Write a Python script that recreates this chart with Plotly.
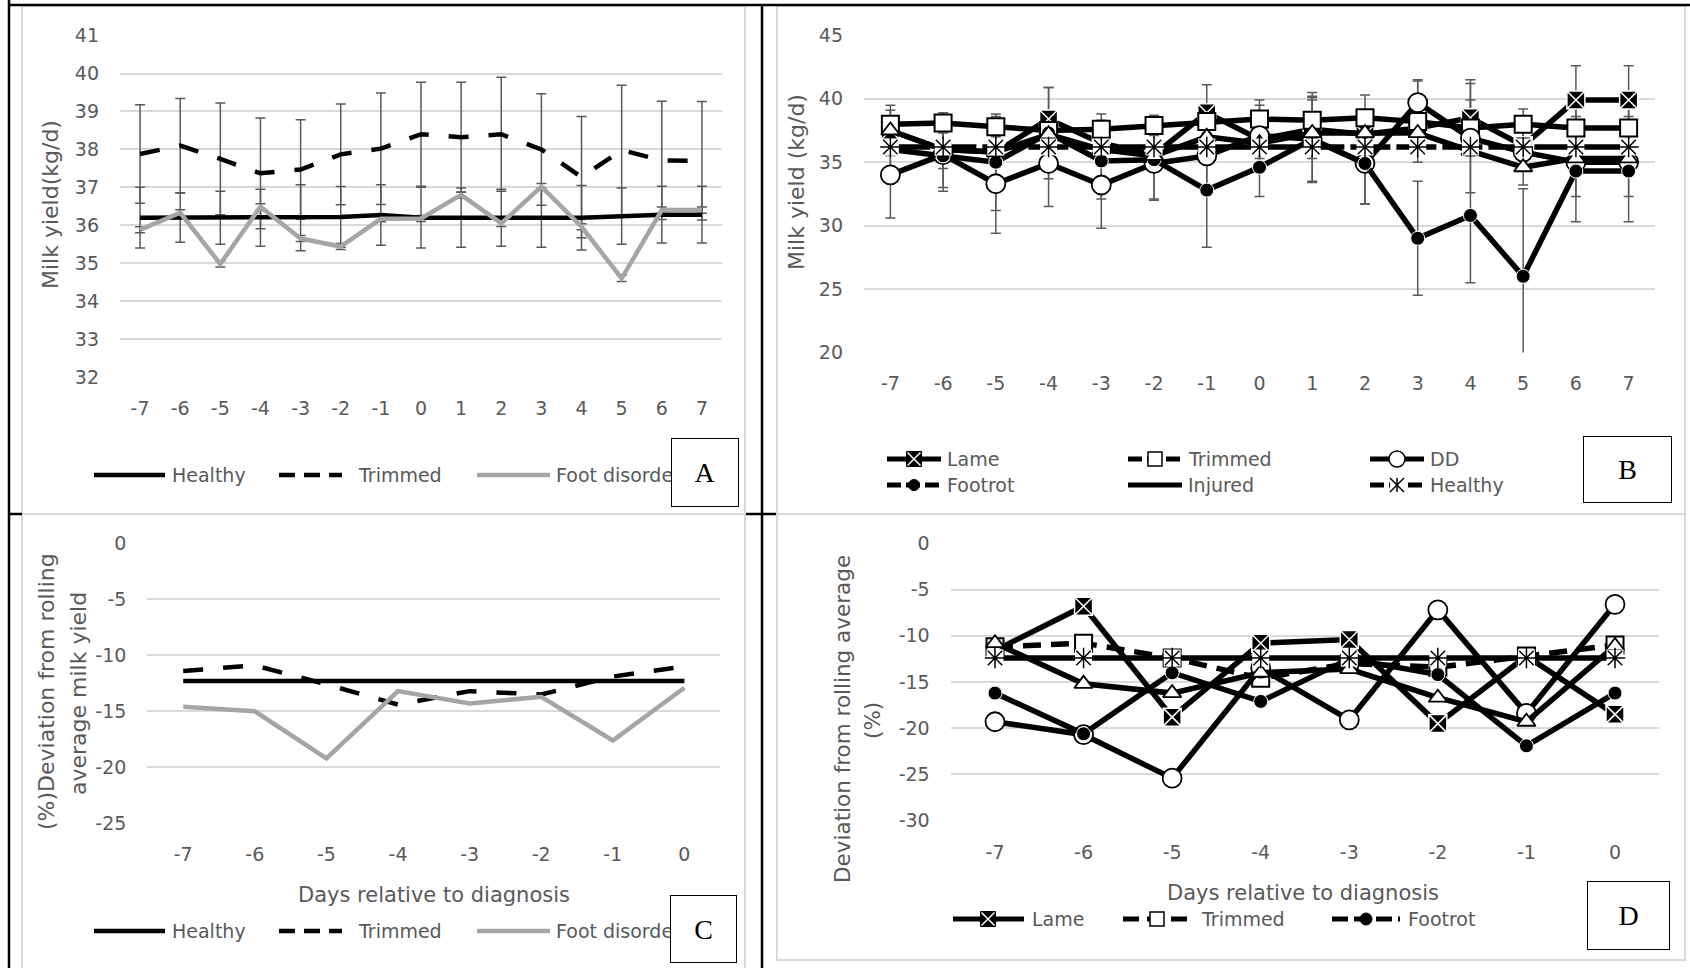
import plotly.graph_objects as go

W, H = 1690, 968


def px(x):
    return x / W


def py(y):
    return 1 - y / H


# ---------------- data ----------------
days_ab = [-7, -6, -5, -4, -3, -2, -1, 0, 1, 2, 3, 4, 5, 6, 7]
days_cd = [-7, -6, -5, -4, -3, -2, -1, 0]

# Panel A: milk yield (kg/d)
a_healthy = [36.2, 36.2, 36.2, 36.2, 36.2, 36.22, 36.27, 36.2, 36.2, 36.2, 36.2, 36.2, 36.24, 36.28, 36.28]
a_healthy_err = [0.8, 0.65, 0.7, 0.75, 0.87, 0.8, 0.8, 0.8, 0.78, 0.75, 0.78, 0.85, 0.74, 0.75, 0.75]
a_trimmed = [37.88, 38.1, 37.75, 37.37, 37.47, 37.87, 38.02, 38.4, 38.32, 38.4, 38.0, 37.27, 37.98, 37.71, 37.7]
a_trimmed_err = [1.3, 1.24, 1.47, 1.46, 1.31, 1.33, 1.47, 1.37, 1.45, 1.5, 1.47, 1.6, 1.71, 1.56, 1.56]
a_foot = [35.88, 36.33, 34.98, 36.49, 35.65, 35.44, 36.17, 36.18, 36.8, 36.05, 37.02, 35.96, 34.6, 36.4, 36.4]
a_foot_err = [0.08, 0.08, 0.08, 0.08, 0.08, 0.08, 0.08, 0.08, 0.08, 0.08, 0.08, 0.08, 0.08, 0.08, 0.08]
a_yticks = [32, 33, 34, 35, 36, 37, 38, 39, 40, 41]

# Panel B: milk yield (kg/d) by diagnosis
b_lame = [37.5, 36.0, 35.8, 38.4, 36.5, 35.6, 38.9, 36.8, 37.6, 37.2, 37.7, 38.5, 36.3, 39.9, 39.9]
b_lame_err = [2.0, 1.5, 1.0, 2.5, 1.8, 1.2, 2.2, 1.5, 2.3, 1.5, 1.5, 3.0, 1.2, 2.7, 2.7]
b_trimmed = [38.0, 38.1, 37.8, 37.5, 37.6, 37.9, 38.2, 38.4, 38.3, 38.5, 38.2, 37.7, 38.0, 37.7, 37.7]
b_trimmed_err = [1.1, 0.8, 0.8, 1.2, 1.2, 0.8, 1.0, 1.5, 2.2, 1.8, 3.2, 2.2, 1.2, 0.9, 0.9]
b_dd = [34.0, 35.6, 33.3, 34.9, 33.2, 34.9, 35.5, 37.1, 36.8, 34.9, 39.7, 36.9, 35.8, 35.0, 35.0]
b_dd_err = [3.4, 2.6, 3.9, 3.4, 3.4, 2.9, 3.1, 2.4, 3.3, 3.2, 1.8, 4.3, 2.6, 4.7, 4.7]
b_footrot = [36.0, 35.5, 35.0, 37.3, 35.1, 35.2, 32.8, 34.6, 36.8, 34.9, 29.0, 30.8, 26.0, 34.3, 34.3]
b_footrot_err = [2.2, 2.8, 3.8, 3.6, 3.0, 3.1, 4.5, 2.3, 3.4, 3.2, 4.5, 5.3, 6.9, 2.0, 2.0]
b_injured = [37.5, 36.0, 35.8, 37.2, 36.0, 35.5, 37.0, 36.5, 37.3, 37.3, 37.3, 35.9, 34.6, 35.3, 35.3]
b_healthy = [36.2, 36.2, 36.2, 36.2, 36.2, 36.2, 36.2, 36.2, 36.2, 36.2, 36.2, 36.2, 36.2, 36.2, 36.2]
b_healthy_err = [0.3, 0.3, 0.3, 0.3, 0.3, 0.3, 0.3, 0.3, 0.3, 0.3, 0.3, 0.3, 0.3, 0.3, 0.3]
b_yticks = [20, 25, 30, 35, 40, 45]

# Panel C: % deviation from rolling average milk yield
c_healthy = [-12.3, -12.3, -12.3, -12.3, -12.3, -12.3, -12.3, -12.3]
c_trimmed = [-11.4, -10.9, -12.6, -14.4, -13.2, -13.5, -11.9, -11.0]
c_foot = [-14.6, -15.0, -19.2, -13.2, -14.3, -13.7, -17.6, -12.9]
c_yticks = [-25, -20, -15, -10, -5, 0]

# Panel D: % deviation from rolling average by diagnosis
d_lame = [-11.6, -6.8, -18.8, -10.8, -10.4, -19.5, -12.2, -18.5]
d_trimmed = [-11.2, -10.8, -12.4, -14.6, -13.0, -13.4, -12.2, -11.0]
d_footrot = [-16.2, -20.6, -14.0, -17.1, -12.5, -14.2, -21.9, -16.2]
d_dd = [-19.3, -20.7, -25.4, -13.5, -19.1, -7.2, -18.4, -6.6]
d_injured = [-10.8, -15.2, -16.2, -14.0, -13.6, -16.7, -19.3, -11.1]
d_healthy = [-12.4, -12.4, -12.4, -12.4, -12.4, -12.4, -12.4, -12.4]
d_yticks = [-30, -25, -20, -15, -10, -5, 0]

# ---------------- styling ----------------
FONT = "DejaVu Sans"
GREY_TXT = "#595959"
GRID = "#D9D9D9"
ERR = dict(type="data", color="#595959", thickness=1.5, width=5)
LW = 5.5

MK = {
    "lame": dict(symbol="square-x", size=18, color="black", line=dict(color="white", width=1.5)),
    "trimmed": dict(symbol="square", size=17, color="white", line=dict(color="black", width=2)),
    "dd": dict(symbol="circle", size=19, color="white", line=dict(color="black", width=1.8)),
    "footrot": dict(symbol="circle", size=14, color="black", line=dict(color="white", width=1)),
    "injured": dict(symbol="triangle-up", size=16, color="white", line=dict(color="black", width=1.8)),
    "healthy_bg": dict(symbol="square", size=17, color="white", line=dict(width=0)),
    "healthy": dict(symbol="asterisk-open", size=17, color="black", line=dict(color="black", width=1.5)),
}

fig = go.Figure()


def err_trace(x, y, err, xa, ya):
    fig.add_trace(go.Scatter(
        x=x, y=y, mode="markers", marker=dict(size=1, opacity=0),
        error_y=dict(array=err, **ERR), xaxis=xa, yaxis=ya,
        showlegend=False, hoverinfo="skip"))


def line_trace(x, y, xa, ya, color="black", width=LW, dash="solid", marker=None):
    fig.add_trace(go.Scatter(
        x=x, y=y, mode="lines+markers" if marker else "lines",
        line=dict(color=color, width=width, dash=dash),
        marker=marker, xaxis=xa, yaxis=ya, showlegend=False))


def marker_trace(x, y, xa, ya, marker):
    fig.add_trace(go.Scatter(x=x, y=y, mode="markers", marker=marker,
                             xaxis=xa, yaxis=ya, showlegend=False))


# ---- Panel A ----
err_trace(days_ab, a_healthy, a_healthy_err, "x", "y")
err_trace(days_ab, a_trimmed, a_trimmed_err, "x", "y")
err_trace(days_ab, a_foot, a_foot_err, "x", "y")
line_trace(days_ab, a_healthy, "x", "y", width=4.5)
line_trace(days_ab, a_trimmed, "x", "y", width=4.5, dash="20px,20px")
line_trace(days_ab, a_foot, "x", "y", color="#A5A5A5", width=4.5)

# ---- Panel B ----
err_trace(days_ab, b_lame, b_lame_err, "x2", "y2")
err_trace(days_ab, b_trimmed, b_trimmed_err, "x2", "y2")
err_trace(days_ab, b_dd, b_dd_err, "x2", "y2")
err_trace(days_ab, b_footrot, b_footrot_err, "x2", "y2")
err_trace(days_ab, b_healthy, b_healthy_err, "x2", "y2")
line_trace(days_ab, b_lame, "x2", "y2", marker=MK["lame"])
line_trace(days_ab, b_trimmed, "x2", "y2", marker=MK["trimmed"])
line_trace(days_ab, b_dd, "x2", "y2", marker=MK["dd"])
line_trace(days_ab, b_footrot, "x2", "y2", marker=MK["footrot"])
line_trace(days_ab, b_injured, "x2", "y2", marker=MK["injured"])
line_trace(days_ab, b_healthy, "x2", "y2", dash="40px,6px")
marker_trace(days_ab, b_healthy, "x2", "y2", MK["healthy_bg"])
marker_trace(days_ab, b_healthy, "x2", "y2", MK["healthy"])

# ---- Panel C ----
line_trace(days_cd, c_healthy, "x3", "y3", width=4.5)
line_trace(days_cd, c_trimmed, "x3", "y3", width=4.5, dash="20px,20px")
line_trace(days_cd, c_foot, "x3", "y3", color="#A5A5A5", width=4.5)

# ---- Panel D ----
line_trace(days_cd, d_lame, "x4", "y4", marker=MK["lame"])
line_trace(days_cd, d_trimmed, "x4", "y4", dash="18px,10px", marker=MK["trimmed"])
line_trace(days_cd, d_dd, "x4", "y4", marker=MK["dd"])
line_trace(days_cd, d_footrot, "x4", "y4", marker=MK["footrot"])
line_trace(days_cd, d_injured, "x4", "y4", marker=MK["injured"])
line_trace(days_cd, d_healthy, "x4", "y4")
marker_trace(days_cd, d_healthy, "x4", "y4", MK["healthy_bg"])
marker_trace(days_cd, d_healthy, "x4", "y4", MK["healthy"])

# ---------------- axes ----------------
TICKFONT = dict(family=FONT, size=19, color=GREY_TXT)


def xaxis(domain, rng, vals, anchor):
    return dict(domain=[px(domain[0]), px(domain[1])], range=rng, anchor=anchor,
                tickmode="array", tickvals=vals, ticktext=[str(v) for v in vals],
                showgrid=False, zeroline=False, showline=False, ticks="",
                tickfont=TICKFONT, ticklabelstandoff=18, automargin=False,
                fixedrange=True)


def yaxis(domain, rng, vals, anchor):
    return dict(domain=[py(domain[1]), py(domain[0])], range=rng, anchor=anchor,
                tickmode="array", tickvals=vals, ticktext=[str(v) for v in vals],
                showgrid=True, gridcolor=GRID, gridwidth=1.5, zeroline=False,
                showline=False, ticks="", tickfont=TICKFONT, ticklabelstandoff=20,
                automargin=False, fixedrange=True)


layout_axes = dict(
    xaxis=xaxis((120, 722), [-7.5, 7.5], days_ab, "y"),
    yaxis=yaxis((35.6, 377), [32, 41], a_yticks, "x"),
    xaxis2=xaxis((864, 1655), [-7.5, 7.5], days_ab, "y2"),
    yaxis2=yaxis((35.4, 352.4), [20, 45], b_yticks, "x2"),
    xaxis3=xaxis((147.4, 720.2), [-7.5, 0.5], days_cd, "y3"),
    yaxis3=yaxis((543.2, 823.4), [-25, 0], c_yticks, "x3"),
    xaxis4=xaxis((950.7, 1659.3), [-7.5, 0.5], days_cd, "y4"),
    yaxis4=yaxis((543.3, 820.7), [-30, 0], d_yticks, "x4"),
)

# ---------------- decorations ----------------
shapes = []
annotations = []


def seg(x0, y0, x1, y1, color="black", width=2, dash="solid"):
    shapes.append(dict(type="line", xref="paper", yref="paper",
                       x0=px(x0), y0=py(y0), x1=px(x1), y1=py(y1),
                       line=dict(color=color, width=width, dash=dash), layer="above"))


def rect(x0, y0, x1, y1, fill="white", color="black", width=1.5, layer="above"):
    shapes.append(dict(type="rect", xref="paper", yref="paper",
                       x0=px(x0), y0=py(y0), x1=px(x1), y1=py(y1),
                       fillcolor=fill, line=dict(color=color, width=width), layer=layer))


def circ(cx, cy, r, fill, color="black", width=1.5):
    shapes.append(dict(type="circle", xref="paper", yref="paper",
                       x0=px(cx - r), y0=py(cy - r), x1=px(cx + r), y1=py(cy + r),
                       fillcolor=fill, line=dict(color=color, width=width), layer="above"))


def text(x, y, s, size=19, anchor="left", color=GREY_TXT, family=FONT, angle=0):
    annotations.append(dict(text=s, x=px(x), y=py(y), xref="paper", yref="paper",
                            xanchor=anchor, yanchor="middle", showarrow=False,
                            textangle=angle, font=dict(family=family, size=size, color=color)))


def swatch_square_x(cx, cy, s=15):
    rect(cx - s / 2, cy - s / 2, cx + s / 2, cy + s / 2, fill="black", color="black", width=1)
    seg(cx - s / 2 + 1, cy - s / 2 + 1, cx + s / 2 - 1, cy + s / 2 - 1, color="white", width=1.5)
    seg(cx - s / 2 + 1, cy + s / 2 - 1, cx + s / 2 - 1, cy - s / 2 + 1, color="white", width=1.5)


def swatch_asterisk(cx, cy, s=14):
    rect(cx - s / 2, cy - s / 2, cx + s / 2, cy + s / 2, fill="white", color="white", width=0)
    seg(cx - s / 2, cy - s / 2, cx + s / 2, cy + s / 2, width=1.5)
    seg(cx - s / 2, cy + s / 2, cx + s / 2, cy - s / 2, width=1.5)
    seg(cx, cy - s / 2, cx, cy + s / 2, width=1.5)


# chart-area outlines
for x0, y0, x1, y1 in [(22, 6, 745, 514), (777, 6, 1685, 514),
                       (22, 514, 745, 970), (777, 514, 1685, 960)]:
    rect(x0, y0, x1, y1, fill="rgba(0,0,0,0)", color=GRID, width=2, layer="below")

# table rules
seg(9, 0, 9, 968, width=2.5)
seg(9, 5, 1690, 5, width=2.5)
seg(762, 5, 762, 968, width=2.5)
seg(746, 514, 776, 514, width=2.5)
seg(9, 514, 22, 514, width=2.5)

# legends A and C
for ly in (475, 931):
    seg(94, ly, 165, ly, width=4.5)
    text(170, ly, "Healthy")
    seg(279, ly, 342, ly, width=4.5, dash="16px,9px")
    text(356, ly, "Trimmed")
    seg(477, ly, 550, ly, color="#A5A5A5", width=4.5)
    text(554, ly, "Foot disorder")

# legend B (two rows, three columns)
r1, r2 = 459, 485
seg(887, r1, 941, r1, width=5)
swatch_square_x(914, r1)
text(945, r1, "Lame")
seg(1128, r1, 1182, r1, width=5, dash="14px,5px")
rect(1148, r1 - 7, 1162, r1 + 7, fill="white", color="black", width=1.5)
text(1186, r1, "Trimmed")
seg(1370, r1, 1424, r1, width=5)
circ(1397, r1, 8, "white")
text(1428, r1, "DD")
seg(887, r2, 941, r2, width=5, dash="14px,5px")
circ(914, r2, 5.5, "black", width=1)
text(945, r2, "Footrot")
seg(1128, r2, 1182, r2, width=5)
text(1186, r2, "Injured")
seg(1370, r2, 1424, r2, width=5, dash="14px,5px")
swatch_asterisk(1397, r2)
text(1428, r2, "Healthy")

# legend D
ld = 919
seg(953, ld, 1024, ld, width=5)
swatch_square_x(988, ld)
text(1030, ld, "Lame")
seg(1123, ld, 1190, ld, width=5, dash="16px,8px")
rect(1150, ld - 7, 1164, ld + 7, fill="white", color="black", width=1.5)
text(1199, ld, "Trimmed")
seg(1332, ld, 1400, ld, width=5, dash="16px,6px")
circ(1366, ld, 6, "black", width=1)
text(1406, ld, "Footrot")

# axis titles
text(50, 205, "Milk yield(kg/d)", size=22, anchor="center", angle=-90)
text(797, 182, "Milk yield (kg/d)", size=22, anchor="center", angle=-90)
text(46, 692, "(%)Deviation from rolling", size=22, anchor="center", angle=-90)
text(78, 694, "average milk yield", size=22, anchor="center", angle=-90)
text(842, 719, "Deviation from rolling average", size=21.5, anchor="center", angle=-90)
text(872, 721, "(%)", size=21.5, anchor="center", angle=-90)
text(434, 895, "Days relative to diagnosis", size=21, anchor="center")
text(1303, 893, "Days relative to diagnosis", size=21, anchor="center")

# panel letters in boxes (drawn last so they sit on top of the legend text)
for letter, x0, y0, x1, y1 in [("A", 671, 438, 739, 507), ("B", 1583, 436, 1672, 503),
                               ("C", 670, 895, 737, 963), ("D", 1587, 881, 1670, 950)]:
    annotations.append(dict(text=letter, x=px((x0 + x1) / 2), y=py((y0 + y1) / 2),
                            xref="paper", yref="paper", xanchor="center", yanchor="middle",
                            showarrow=False, width=x1 - x0 - 2, height=y1 - y0 - 2,
                            bgcolor="white", bordercolor="black", borderwidth=1, borderpad=0,
                            font=dict(family="Liberation Serif", size=28, color="black")))

fig.update_layout(
    width=W, height=H, margin=dict(l=0, r=0, t=0, b=0, pad=0, autoexpand=False),
    paper_bgcolor="white", plot_bgcolor="rgba(0,0,0,0)",
    showlegend=False, shapes=shapes, annotations=annotations,
    **layout_axes,
)

fig.write_html("out.html")
